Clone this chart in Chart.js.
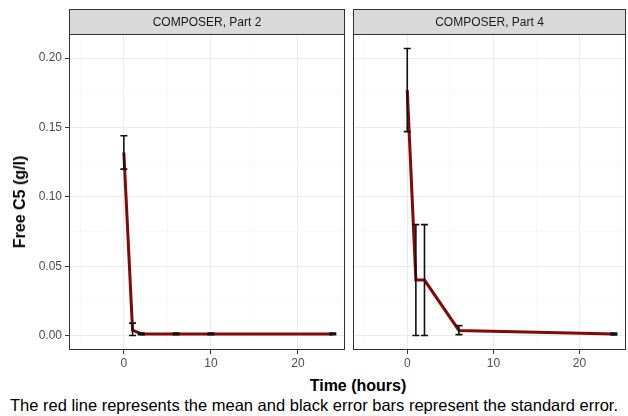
<!DOCTYPE html>
<html>
<head>
<meta charset="utf-8">
<script src="https://cdn.jsdelivr.net/npm/chart.js@4"></script>
<style>
  body { margin: 0; background: #fff; width: 628px; height: 416px; position: relative; overflow: hidden; font-family: "Liberation Sans", Arial, sans-serif; }
  canvas { position: absolute; top: 0; }
  #ytitle { position: absolute; left: 20px; top: 202px; transform: translate(-50%, -50%) rotate(-90deg); font-weight: bold; font-size: 16px; white-space: nowrap; color: #000; }
  #xtitle { position: absolute; left: 358px; top: 386px; transform: translate(-50%, -50%); font-weight: bold; font-size: 16px; white-space: nowrap; color: #000; }
  #caption { position: absolute; left: 314px; top: 405px; transform: translate(-50%, -50%); font-size: 16.5px; white-space: nowrap; color: #000; }
</style>
</head>
<body>
<canvas id="part2" width="348" height="372" style="left:0px"></canvas>
<canvas id="part4" width="279" height="372" style="left:349px"></canvas>
<div id="ytitle">Free C5 (g/l)</div>
<div id="xtitle">Time (hours)</div>
<div id="caption">The red line represents the mean and black error bars represent the standard error.</div>
<script>
// panel titles
var panelTitles = ["COMPOSER, Part 2", "COMPOSER, Part 4"];

// COMPOSER, Part 2
var timeP2 = [0, 1, 2, 6, 10, 24];
var meanP2 = [0.132, 0.004, 0.0012, 0.0012, 0.0012, 0.0012];
var seLowP2 = [0.120, 0.000, 0.0006, 0.0006, 0.0006, 0.0006];
var seHighP2 = [0.144, 0.009, 0.0018, 0.0018, 0.0018, 0.0018];

// COMPOSER, Part 4
var timeP4 = [0, 1, 2, 6, 24];
var meanP4 = [0.177, 0.040, 0.040, 0.0037, 0.0012];
var seLowP4 = [0.147, 0.000, 0.000, 0.0007, 0.0005];
var seHighP4 = [0.207, 0.080, 0.080, 0.0072, 0.0018];

// ticks
var xMajor = [0, 10, 20];
var xTicks = [-5, 0, 5, 10, 15, 20, 25];
var yMajor = [0, 0.05, 0.10, 0.15, 0.20];
var yTicks = [0, 0.025, 0.05, 0.075, 0.10, 0.125, 0.15, 0.175, 0.20];

function isMajor(list, v) {
    return list.some(function (m) { return Math.abs(m - v) < 1e-9; });
}

var panelPlugin = {
    id: 'panel',
    afterDatasetsDraw: function (chart, args, opts) {
        var ctx = chart.ctx;
        var xs = chart.scales.x, ys = chart.scales.y;
        // error bars
        ctx.save();
        ctx.strokeStyle = '#111';
        ctx.lineWidth = 1.6;
        for (var i = 0; i < opts.t.length; i++) {
            var px = xs.getPixelForValue(opts.t[i]);
            var lo = ys.getPixelForValue(opts.lo[i]);
            var hi = ys.getPixelForValue(opts.hi[i]);
            ctx.beginPath();
            ctx.moveTo(px, lo); ctx.lineTo(px, hi);
            ctx.moveTo(px - 3.5, lo); ctx.lineTo(px + 3.5, lo);
            ctx.moveTo(px - 3.5, hi); ctx.lineTo(px + 3.5, hi);
            ctx.stroke();
        }
        ctx.restore();
    },
    afterDraw: function (chart, args, opts) {
        var ctx = chart.ctx;
        var a = chart.chartArea;
        ctx.save();
        // panel border
        ctx.strokeStyle = '#333';
        ctx.lineWidth = 1;
        ctx.strokeRect(a.left + 0.5, a.top + 0.5, a.right - a.left - 1, a.bottom - a.top - 1);
        // strip
        ctx.fillStyle = '#d9d9d9';
        ctx.fillRect(a.left, 9, a.right - a.left, a.top - 9);
        ctx.strokeRect(a.left + 0.5, 9.5, a.right - a.left - 1, a.top - 9);
        ctx.fillStyle = '#1a1a1a';
        ctx.font = '12px "Liberation Sans", Arial, sans-serif';
        ctx.textAlign = 'center';
        ctx.textBaseline = 'middle';
        ctx.fillText(opts.title, (a.left + a.right) / 2, (9 + a.top) / 2 + 1);
        ctx.restore();
    }
};

function makeChart(id, t, mean, lo, hi, title, showY, yWidth, padRight) {
    var points = t.map(function (v, i) { return { x: v, y: mean[i] }; });
    return new Chart(document.getElementById(id).getContext('2d'), {
        type: 'line',
        data: {
            datasets: [{
                data: points,
                borderColor: '#850808',
                borderWidth: 3,
                pointRadius: 0,
                tension: 0,
                fill: false
            }]
        },
        plugins: [panelPlugin],
        options: {
            responsive: false,
            animation: false,
            layout: { padding: { left: 0, right: padRight, top: 34, bottom: 0 } },
            plugins: {
                legend: { display: false },
                tooltip: { enabled: false },
                panel: { t: t, lo: lo, hi: hi, title: title }
            },
            scales: {
                x: {
                    type: 'linear',
                    min: -6.3,
                    max: 25.4,
                    afterBuildTicks: function (s) { s.ticks = xTicks.map(function (v) { return { value: v }; }); },
                    afterFit: function (s) { s.height = 22; },
                    border: { display: false },
                    grid: {
                        color: function (c) { return isMajor(xMajor, c.tick.value) ? '#ebebeb' : '#f5f5f5'; },
                        lineWidth: function (c) { return isMajor(xMajor, c.tick.value) ? 1 : 0.6; },
                        tickColor: function (c) { return isMajor(xMajor, c.tick.value) ? '#333' : 'rgba(0,0,0,0)'; },
                        tickLength: 4
                    },
                    ticks: {
                        autoSkip: false,
                        maxRotation: 0,
                        padding: 2,
                        color: '#4d4d4d',
                        font: { family: '"Liberation Sans", Arial, sans-serif', size: 12 },
                        callback: function (v) { return isMajor(xMajor, v) ? String(v) : ''; }
                    }
                },
                y: {
                    type: 'linear',
                    min: -0.0104,
                    max: 0.2174,
                    afterBuildTicks: function (s) { s.ticks = yTicks.map(function (v) { return { value: v }; }); },
                    afterFit: function (s) { s.width = yWidth; },
                    border: { display: false },
                    grid: {
                        color: function (c) { return isMajor(yMajor, c.tick.value) ? '#ebebeb' : '#f5f5f5'; },
                        lineWidth: function (c) { return isMajor(yMajor, c.tick.value) ? 1 : 0.6; },
                        tickColor: function (c) { return (showY && isMajor(yMajor, c.tick.value)) ? '#333' : 'rgba(0,0,0,0)'; },
                        tickLength: 4
                    },
                    ticks: {
                        display: showY,
                        autoSkip: false,
                        padding: 3,
                        color: '#4d4d4d',
                        font: { family: '"Liberation Sans", Arial, sans-serif', size: 12 },
                        callback: function (v) { return isMajor(yMajor, v) ? v.toFixed(2) : ''; }
                    }
                }
            }
        }
    });
}

makeChart('part2', timeP2, meanP2, seLowP2, seHighP2, panelTitles[0], true, 69, 3);
makeChart('part4', timeP4, meanP4, seLowP4, seHighP4, panelTitles[1], false, 4, 2);
</script>
</body>
</html>
